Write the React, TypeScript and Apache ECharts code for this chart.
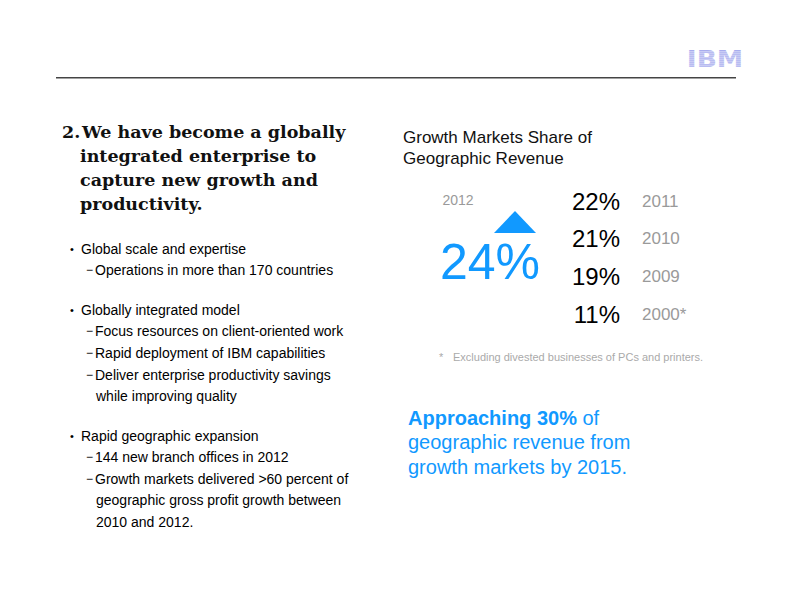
import React, { useEffect, useRef } from "react";
import * as echarts from "echarts";

const headingLines = [
  "We have become a globally",
  "integrated enterprise to",
  "capture new growth and",
  "productivity.",
];

type Bullet = { level: number; text: string; y: number };
const bullets: Bullet[] = [
  { level: 1, text: "Global scale and expertise", y: 249 },
  { level: 2, text: "Operations in more than 170 countries", y: 270 },
  { level: 1, text: "Globally integrated model", y: 310 },
  { level: 2, text: "Focus resources on client-oriented work", y: 331 },
  { level: 2, text: "Rapid deployment of IBM capabilities", y: 353 },
  { level: 2, text: "Deliver enterprise productivity savings", y: 375 },
  { level: 3, text: "while improving quality", y: 396 },
  { level: 1, text: "Rapid geographic expansion", y: 436 },
  { level: 2, text: "144 new branch offices in 2012", y: 457 },
  { level: 2, text: "Growth markets delivered >60 percent of", y: 479 },
  { level: 3, text: "geographic gross profit growth between", y: 500 },
  { level: 3, text: "2010 and 2012.", y: 522 },
];

const currentYear = "2012";
const currentShare = 24;
const pastYears = ["2011", "2010", "2009", "2000*"];
const pastShares = [22, 21, 19, 11];

const BLUE = "#1199ff";
const GRAY = "#9a9a9a";
const SANS = "Liberation Sans, Arial, sans-serif";

export default function App() {
  const ref = useRef<HTMLDivElement>(null);
  useEffect(() => {
    document.body.style.margin = "0";
    const chart = echarts.init(ref.current!, null, { renderer: "svg" });
    const g: any[] = [];
    const txt = (x: number, y: number, text: string, opts: any = {}) =>
      g.push({
        type: "text",
        x,
        y,
        style: {
          text,
          fontFamily: SANS,
          fontSize: 14,
          fill: "#000",
          verticalAlign: "middle",
          align: "left",
          ...opts,
        },
      });

    // header rule
    g.push({ type: "rect", shape: { x: 56, y: 77, width: 680, height: 1.6 }, style: { fill: "#444" } });

    // IBM logo
    g.push({
      type: "text",
      x: 715,
      y: 59,
      scaleX: 1.15,
      style: {
        text: "IBM",
        fontFamily: "DejaVu Sans, sans-serif",
        fontWeight: "bold",
        fontSize: 23,
        fill: "#a8adee",
        align: "center",
        verticalAlign: "middle",
      },
    });
    for (let i = 0; i < 8; i++) {
      g.push({ type: "rect", shape: { x: 686, y: 51.6 + i * 2, width: 60, height: 0.7 }, style: { fill: "#ffffff", opacity: 0.75 } });
    }

    // heading
    const headFont = { fontFamily: "DejaVu Serif, serif", fontWeight: "bold", fontSize: 17.5, fill: "#111" };
    txt(62, 132, "2.", headFont);
    headingLines.forEach((t, i) => txt(i === 0 ? 82 : 80, 132 + i * 24, t, headFont));

    // bullets
    bullets.forEach((b) => {
      if (b.level === 1) {
        txt(70, b.y, "•", { fontSize: 11 });
        txt(81, b.y, b.text);
      } else if (b.level === 2) {
        txt(86, b.y, "−", { fontSize: 12 });
        txt(95, b.y, b.text);
      } else {
        txt(96, b.y, b.text);
      }
    });

    // right panel title
    txt(403, 137, "Growth Markets Share of", { fontSize: 17, fill: "#111" });
    txt(403, 158, "Geographic Revenue", { fontSize: 17, fill: "#111" });

    // current year
    txt(458, 200, currentYear, { fontSize: 14, fill: GRAY, align: "center" });
    g.push({
      type: "polygon",
      shape: { points: [[494, 233], [536, 233], [515, 211]] },
      style: { fill: BLUE },
    });
    txt(490, 262, currentShare + "%", { fontSize: 50, fill: BLUE, align: "center" });

    // past years
    pastShares.forEach((v, i) => {
      const y = 201 + i * 37.7;
      txt(620, y, v + "%", { fontSize: 24, fill: "#000", align: "right" });
      txt(642, y, pastYears[i], { fontSize: 17, fill: GRAY });
    });

    // footnote
    txt(439, 357, "*", { fontSize: 11, fill: "#aaa" });
    txt(453, 357, "Excluding divested businesses of PCs and printers.", { fontSize: 11, fill: "#aaa" });

    // callout
    g.push({
      type: "text",
      x: 408,
      y: 418,
      style: {
        text: "{b|Approaching 30%}{r| of}",
        verticalAlign: "middle",
        rich: {
          b: { fontFamily: SANS, fontSize: 20, fontWeight: "bold", fill: BLUE },
          r: { fontFamily: SANS, fontSize: 20, fill: BLUE },
        },
      },
    });
    txt(408, 442, "geographic revenue from", { fontSize: 20, fill: BLUE });
    txt(408, 467, "growth markets by 2015.", { fontSize: 20, fill: BLUE });

    chart.setOption({ animation: false, graphic: g });
    return () => chart.dispose();
  }, []);
  return <div ref={ref} style={{ width: 792, height: 612, background: "#fff" }} />;
}
